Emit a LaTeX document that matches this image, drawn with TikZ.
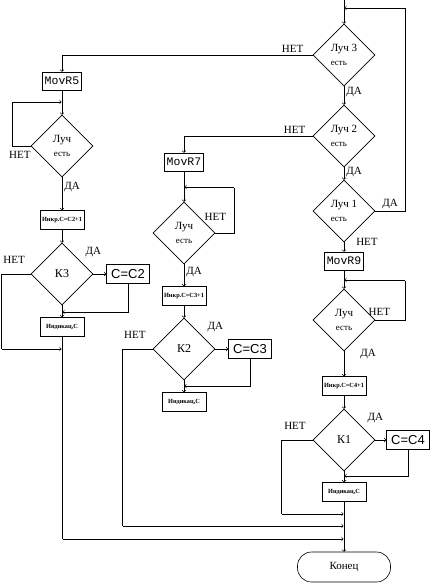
\documentclass[tikz,border=0pt]{standalone}
\usepackage{fontspec}
\setmainfont{Liberation Serif}
\newfontfamily\movfont{Liberation Mono}
\newfontfamily\cfont{Liberation Sans}
\usetikzlibrary{shapes.geometric, arrows}
\tikzstyle{movbox} = [rectangle, draw, inner sep=1pt, minimum width=39pt, minimum height=18pt, font=\movfont\fontsize{11.5}{12}\selectfont]
\tikzstyle{smallbox} = [rectangle, draw, inner sep=1pt, minimum width=44pt, minimum height=19pt, font=\bfseries\fontsize{6.3}{7}\selectfont]
\tikzstyle{cbox} = [rectangle, draw, inner sep=1pt, minimum width=43pt, minimum height=19pt, font=\cfont\fontsize{13}{13}\selectfont]
\tikzstyle{decision} = [diamond, draw, minimum width=62pt, minimum height=62pt, inner sep=0pt, align=center, font=\fontsize{11}{14}\selectfont]
\tikzstyle{endbox} = [rectangle, draw, rounded corners=14pt, minimum width=93pt, minimum height=30pt, font=\fontsize{11}{11}\selectfont]
\tikzstyle{lbl} = [inner sep=2pt, font=\fontsize{11}{11}\selectfont]
\tikzstyle{blank} = [inner sep=0,outer sep=0]
\tikzstyle{line} = [draw,->,>=to]

\begin{document}
\begin{tikzpicture}[x=1pt, y=-1pt, line width=0.6pt]
\useasboundingbox (0,0) rectangle (443,583);

% right column
\node [blank] (0) at (344,0) {};
\node [decision, align=left] (L3) at (344,55) {Луч 3\\{\small есть}};
\node [decision, align=left] (L2) at (344,136) {Луч 2\\{\small есть}};
\node [decision, align=left] (L1) at (344,211) {Луч 1\\{\small есть}};
\node [movbox] (M9) at (344,261) {MovR9};
\node [decision] (D4) at (344,320) {Луч\\{\small есть}};
\node [smallbox] (N4) at (344,386) {Инкр.C=C4+1};
\node [decision, font=\fontsize{12}{12}\selectfont] (K1) at (344,440) {К1};
\node [cbox] (C4) at (408,440) {C=C4};
\node [smallbox] (S4) at (344,492) {Индикац,C};
\node [endbox] (E) at (344,567) {Конец};

% left column
\node [movbox] (M5) at (62,81) {MovR5};
\node [decision] (D1) at (62,146) {Луч\\{\small есть}};
\node [smallbox] (N2) at (62,220) {Инкр.C=C2+1};
\node [decision, font=\fontsize{12}{12}\selectfont] (K3) at (62,274) {К3};
\node [cbox] (C2) at (128,274) {C=C2};
\node [smallbox] (S2) at (62,327) {Индикац,C};

% middle column
\node [movbox] (M7) at (184,162) {MovR7};
\node [decision] (D2) at (184,233) {Луч\\{\small есть}};
\node [smallbox] (N3) at (184,296) {Инкр.C=C3+1};
\node [decision, font=\fontsize{12}{12}\selectfont] (K2) at (184,349) {К2};
\node [cbox] (C3) at (250,349) {C=C3};
\node [smallbox] (S3) at (184,402) {Индикац,C};

% corners and joins
\node [blank] (1) at (405,8) {};
\node [blank] (2) at (344,8) {};
\node [blank] (3) at (405,280) {};
\node [blank] (4) at (344,280) {};
\node [blank] (5) at (344,476) {};
\node [blank] (6) at (281,514) {};
\node [blank] (7) at (344,514) {};
\node [blank] (8) at (12,102) {};
\node [blank] (9) at (62,102) {};
\node [blank] (10) at (62,312) {};
\node [blank] (11) at (1,349) {};
\node [blank] (12) at (62,349) {};
\node [blank] (13) at (62,539) {};
\node [blank] (14) at (344,539) {};
\node [blank] (15) at (234,187) {};
\node [blank] (16) at (184,187) {};
\node [blank] (17) at (184,386) {};
\node [blank] (18) at (122,526) {};
\node [blank] (19) at (344,526) {};

\path [line] (0) -- (L3);
\path [line] (L1.east) -| node[lbl, pos=0.25, above] {ДА} (1) -- (2);
\path [line] (L3.west) -| node[lbl, pos=0.04, above] {НЕТ} (M5.north);
\path [line] (L3) -- node[lbl, right, pos=0.3] {ДА} (L2);
\path [line] (L2.west) -| node[lbl, pos=0.07, above] {НЕТ} (M7.north);
\path [line] (L2) -- node[lbl, right, pos=0.4] {ДА} (L1);
\path [line] (L1) -- node[lbl, pos=0, anchor=west, xshift=10pt] {НЕТ} (M9);
\path [line] (M9) -- (D4);
\path [line] (D4.east) -| node[lbl, pos=0, anchor=south, xshift=4pt, yshift=2pt] {НЕТ} (3) -- (4);
\path [line] (D4) -- node[lbl, pos=0, anchor=west, xshift=14pt, yshift=-3pt] {ДА} (N4);
\path [line] (N4) -- (K1);
\path [line] (K1) -- node[lbl, pos=0, anchor=south, yshift=15pt] {ДА} (C4);
\path [line] (C4.south) |- (5);
\path [line] (K1) -- (S4);
\path [line] (K1.west) -| node[lbl, pos=0.28, anchor=south, yshift=8pt] {НЕТ} (6) -- (7);
\path [line] (S4) -- (E);

\path [line] (M5) -- (D1);
\path [line] (D1.west) -| node[lbl, pos=0.29, anchor=north, yshift=-3pt] {НЕТ} (8) -- (9);
\path [line] (D1) -- node[lbl, right, pos=0.3] {ДА} (N2);
\path [line] (N2) -- (K3);
\path [line] (K3) -- node[lbl, pos=0, anchor=south, yshift=15pt] {ДА} (C2);
\path [line] (C2.south) |- (10);
\path [line] (K3) -- (S2);
\path [line] (K3.west) -| node[lbl, pos=0.28, anchor=south, yshift=8pt] {НЕТ} (11) -- (12);
\path [line] (S2) -- (13) -- (14);

\path [line] (M7) -- (D2);
\path [line] (D2.east) -| node[lbl, pos=0, anchor=south, yshift=10pt] {НЕТ} (15) -- (16);
\path [line] (D2) -- node[lbl, right, pos=0.35] {ДА} (N3);
\path [line] (N3) -- (K2);
\path [line] (K2) -- node[lbl, pos=0, anchor=south, yshift=15pt] {ДА} (C3);
\path [line] (C3.south) |- (17);
\path [line] (K2) -- (S3);
\path [line] (K2.west) -| node[lbl, pos=0.29, anchor=south, yshift=8pt] {НЕТ} (18) -- (19);

\end{tikzpicture}
\end{document}
